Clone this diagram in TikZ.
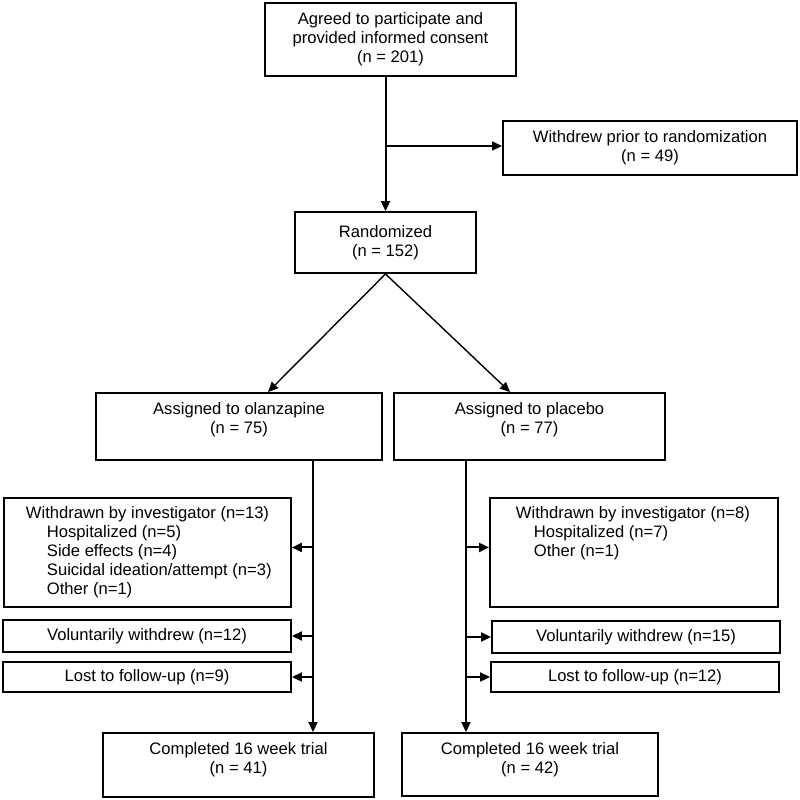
\documentclass[tikz,border=0pt]{standalone}
\usepackage{fontspec}
\setmainfont{Liberation Sans}
\usetikzlibrary{arrows.meta}
\tikzset{%
	box/.style={draw,line width=1.9pt,inner sep=0pt,align=center,font=\fontsize{16.6pt}{19pt}\selectfont},
	listbox/.style={draw,line width=1.9pt,inner sep=0pt,anchor=north west,font=\fontsize{16.6pt}{19pt}\selectfont},
	link/.style={line width=2pt,-{Triangle[length=10pt,width=9pt]}},
	thinlink/.style={line width=1.4pt,-{Triangle[length=10pt,width=9pt]}}
}

\begin{document}
\begin{tikzpicture}[x=1pt,y=-1pt]
		\useasboundingbox (0,0) rectangle (800,800);

		\node[box,minimum width=251pt,minimum height=73pt] (agree) at (390.5,39.5) {Agreed to participate and\\provided informed consent\\(n = 201)};
		\node[box,minimum width=294pt,minimum height=54pt] (withdrew) at (650,148) {Withdrew prior to randomization\\(n = 49)};
		\node[box,minimum width=181pt,minimum height=61pt] (rand) at (385.5,242.5) {Randomized\\(n = 152)};

		\node[box,minimum width=286pt,minimum height=67pt] (olz) at (239,426.5) {Assigned to olanzapine\\(n = 75)\\[-1pt]\mbox{}};
		\node[box,minimum width=271pt,minimum height=67pt] (plc) at (529.5,426.5) {Assigned to placebo\\(n = 77)\\[-1pt]\mbox{}};

		\node[listbox] (wdol) at (3,497) {\parbox[t][109pt][t]{287pt}{\vspace*{9pt}%
			\hspace*{22pt}Withdrawn by investigator (n=13)\\
			\hspace*{43pt}Hospitalized (n=5)\\
			\hspace*{43pt}Side effects (n=4)\\
			\hspace*{43pt}Suicidal ideation/attempt (n=3)\\
			\hspace*{43pt}Other (n=1)}};
		\node[listbox] (wdpl) at (489,497) {\parbox[t][109pt][t]{288pt}{\vspace*{9pt}%
			\hspace*{26pt}Withdrawn by investigator (n=8)\\
			\hspace*{44pt}Hospitalized (n=7)\\
			\hspace*{44pt}Other (n=1)}};

		\node[box,minimum width=288pt,minimum height=32pt] (volol) at (147,636) {Voluntarily withdrew (n=12)};
		\node[box,minimum width=288pt,minimum height=30pt] (lostol) at (147,677) {Lost to follow-up (n=9)};
		\node[box,minimum width=288pt,minimum height=32pt] (volpl) at (636,637) {Voluntarily withdrew (n=15)};
		\node[box,minimum width=288pt,minimum height=30pt] (lostpl) at (635,677) {Lost to follow-up (n=12)};

		\node[box,minimum width=271pt,minimum height=64pt] (cmpol) at (238.5,765) {Completed 16 week trial\\(n = 41)\\[-5pt]\mbox{}};
		\node[box,minimum width=256pt,minimum height=63pt] (cmppl) at (530,764.5) {Completed 16 week trial\\(n = 42)\\[-5pt]\mbox{}};

		\coordinate (split) at (385.5,146);
		\coordinate (olzline) at ([xshift=74pt]olz.south);
		\coordinate (plcline) at ([xshift=-63.5pt]plc.south);
		\coordinate (wdolin) at ([yshift=5pt]wdol.east);
		\coordinate (wdplin) at ([yshift=5pt]wdpl.west);

		\draw [link] (agree.south -| rand.north)--(rand.north);
		\draw [thinlink] (split)--(split -| withdrew.west);

		\draw [thinlink] (rand.south)--([xshift=29pt]olz.north);
		\draw [thinlink] (rand.south)--([xshift=-19.5pt]plc.north);

		\draw [link] (olzline)--(olzline |- cmpol.north);
		\draw [link] (plcline)--(plcline |- cmppl.north);

		\draw [link] (olzline |- wdolin)--(wdolin);
		\draw [link] (plcline |- wdplin)--(wdplin);
		\foreach \b in {volol,lostol}
			\draw [link] (olzline |- \b.east)--(\b.east);
		\foreach \b in {volpl,lostpl}
			\draw [link] (plcline |- \b.west)--(\b.west);

	\end{tikzpicture}
\end{document}
